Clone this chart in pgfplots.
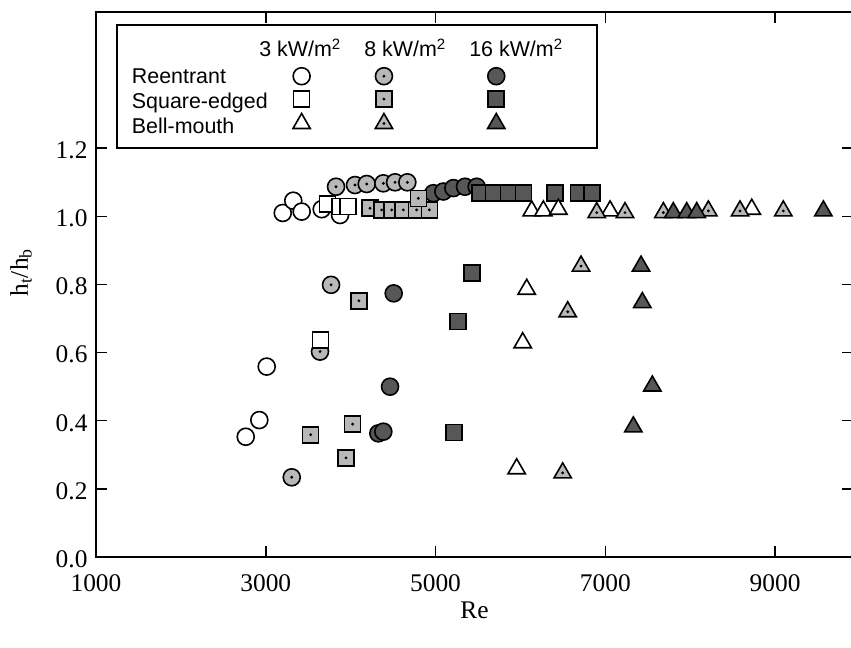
\documentclass[border=0pt]{standalone}
\usepackage{fontspec}
\setmainfont{Liberation Serif}
\newfontfamily\sansleg{Liberation Sans}
\usepackage{pgfplots}
\pgfplotsset{compat=1.18}

% marks with a small black centre dot (8 kW/m^2 series)
\pgfdeclareplotmark{dcircle}{%
  \pgfpathcircle{\pgfpointorigin}{\pgfplotmarksize}%
  \pgfusepathqfillstroke
  \pgfscope\pgfsetfillcolor{black}%
  \pgfpathcircle{\pgfpointorigin}{1.6bp}\pgfusepathqfill\endpgfscope}
\pgfdeclareplotmark{dsquare}{%
  \pgfpathrectangle{\pgfqpoint{-\pgfplotmarksize}{-\pgfplotmarksize}}%
    {\pgfqpoint{2\pgfplotmarksize}{2\pgfplotmarksize}}%
  \pgfusepathqfillstroke
  \pgfscope\pgfsetfillcolor{black}%
  \pgfpathcircle{\pgfpointorigin}{1.6bp}\pgfusepathqfill\endpgfscope}
\pgfdeclareplotmark{dtriangle}{%
  \pgfpathmoveto{\pgfqpoint{0pt}{\pgfplotmarksize}}%
  \pgfpathlineto{\pgfqpointpolar{-30}{\pgfplotmarksize}}%
  \pgfpathlineto{\pgfqpointpolar{210}{\pgfplotmarksize}}%
  \pgfpathclose\pgfusepathqfillstroke
  \pgfscope\pgfsetfillcolor{black}%
  \pgfpathcircle{\pgfpointorigin}{1.6bp}\pgfusepathqfill\endpgfscope}

\colorlet{lightfill}{black!28}
\colorlet{darkfill}{black!66}

\pgfplotsset{
  ser/.style 2 args={only marks, black, mark=#1,
    mark options={solid, draw=black, fill=#2, line width=1.6bp}},
}

% Reentrant
\pgfplotstableread{
Re    h
2764  0.353
2924  0.402
3011  0.559
3200  1.010
3324  1.046
3423  1.014
3659  1.021
3875  1.004
}\reA
\pgfplotstableread{
Re    h
3306  0.234
3639  0.603
3769  0.799
3828  1.087
4051  1.092
4189  1.095
4385  1.097
4523  1.100
4668  1.100
}\reB
\pgfplotstableread{
Re    h
4326  0.363
4385  0.368
4464  0.500
4507  0.774
4974  1.068
5092  1.073
5210  1.083
5347  1.087
5485  1.087
}\reC
% Square-edged
\pgfplotstableread{
Re    h
3647  0.637
3725  1.036
3875  1.029
3969  1.029
}\sqA
\pgfplotstableread{
Re    h
3529  0.359
3945  0.291
4024  0.390
4098  0.752
4228  1.024
4366  1.019
4484  1.019
4620  1.019
4778  1.019
4927  1.019
4797  1.053
}\sqB
\pgfplotstableread{
Re    h
5221  0.365
5268  0.691
5433  0.833
5524  1.068
5681  1.068
5858  1.068
6034  1.068
6408  1.068
6682  1.068
6840  1.068
}\sqC
% Bell-mouth
\pgfplotstableread{
Re    h
5956  0.259
6027  0.629
6074  0.786
6133  1.016
6270  1.016
6447  1.021
7056  1.016
8725  1.021
}\bmA
\pgfplotstableread{
Re    h
6498  0.247
6557  0.720
6714  0.854
6899  1.011
7232  1.011
7684  1.011
8214  1.016
8587  1.016
9097  1.016
}\bmB
\pgfplotstableread{
Re    h
7330  0.382
7421  0.854
7436  0.747
7554  0.502
7801  1.011
7959  1.011
8077  1.011
9569  1.016
}\bmC

\begin{document}
\begin{tikzpicture}
\begin{axis}[
  scale only axis, width=757bp, height=545bp,
  xmin=1000, xmax=9918, ymin=0, ymax=1.6,
  axis line style={line width=1.8bp},
  every tick/.style={black, line width=1.5bp},
  tick align=inside, major tick length=11bp,
  xtick={1000,3000,5000,7000,9000},
  ytick={0,0.2,0.4,0.6,0.8,1.0,1.2},
  scaled x ticks=false,
  /pgf/number format/assume math mode=true,
  tick label style={font=\fontsize{25.5}{30}\selectfont},
  xticklabel style={/pgf/number format/1000 sep={}, yshift=-14bp},
  yticklabel style={/pgf/number format/fixed, /pgf/number format/fixed zerofill,
    /pgf/number format/precision=1, xshift=-5bp, yshift=-2bp},
  xlabel={Re}, ylabel={h\textsubscript{t}/h\textsubscript{b}},
  label style={font=\fontsize{25.5}{30}\selectfont},
  xlabel style={at={(axis description cs:0.5,-0.098)}, anchor=center},
  ylabel style={at={(axis description cs:-0.099,0.522)}, anchor=center},
  legend columns=3,
  legend style={at={(axis description cs:0.2602,0.8978)}, anchor=north west,
    draw=none, fill=none, inner sep=0pt, outer sep=0pt,
    column sep=0pt, row sep=6.4bp, nodes={inner sep=0pt, outer sep=0pt}},
  legend image code/.code={\draw[#1] plot coordinates {(0bp,0bp)};},
]
\addplot[ser={*}{white}, mark size=8.5bp] table[x=Re,y=h] {\reA};
\addlegendentry{\hspace*{65bp}}
\addplot[ser={dcircle}{lightfill}, mark size=8.5bp] table[x=Re,y=h] {\reB};
\addlegendentry{\hspace*{95bp}}
\addplot[ser={*}{darkfill}, mark size=8.5bp] table[x=Re,y=h] {\reC};
\addlegendentry{}
\addplot[ser={square*}{white}, mark size=8bp] table[x=Re,y=h] {\sqA};
\addlegendentry{\hspace*{65bp}}
\addplot[ser={dsquare}{lightfill}, mark size=8bp] table[x=Re,y=h] {\sqB};
\addlegendentry{\hspace*{95bp}}
\addplot[ser={square*}{darkfill}, mark size=8bp] table[x=Re,y=h] {\sqC};
\addlegendentry{}
\addplot[ser={triangle*}{white}, mark size=10bp] table[x=Re,y=h] {\bmA};
\addlegendentry{\hspace*{65bp}}
\addplot[ser={dtriangle}{lightfill}, mark size=10bp] table[x=Re,y=h] {\bmB};
\addlegendentry{\hspace*{95bp}}
\addplot[ser={triangle*}{darkfill}, mark size=10bp] table[x=Re,y=h] {\bmC};
\addlegendentry{}

% legend frame, column headings and row labels
\draw[line width=1.8bp] (axis description cs:0.0277,0.7505) rectangle (axis description cs:0.6618,0.9761);
\begin{scope}[every node/.style={font=\sansleg\fontsize{21.5}{25}\selectfont, inner sep=0pt}]
\node[anchor=base] at (axis description cs:0.2695,0.918) {3 kW/m\textsuperscript{2}};
\node[anchor=base] at (axis description cs:0.4082,0.918) {8 kW/m\textsuperscript{2}};
\node[anchor=base] at (axis description cs:0.5548,0.918) {16 kW/m\textsuperscript{2}};
\node[anchor=base west] at (axis description cs:0.0472,0.8692) {Reentrant};
\node[anchor=base west] at (axis description cs:0.0472,0.8233) {Square-edged};
\node[anchor=base west] at (axis description cs:0.0472,0.7774) {Bell-mouth};
\end{scope}
\end{axis}
\pgfresetboundingbox
\path[use as bounding box] (current axis.south west) ++(-96bp,-91bp) rectangle ++(851bp,648bp);
\end{tikzpicture}
\end{document}
